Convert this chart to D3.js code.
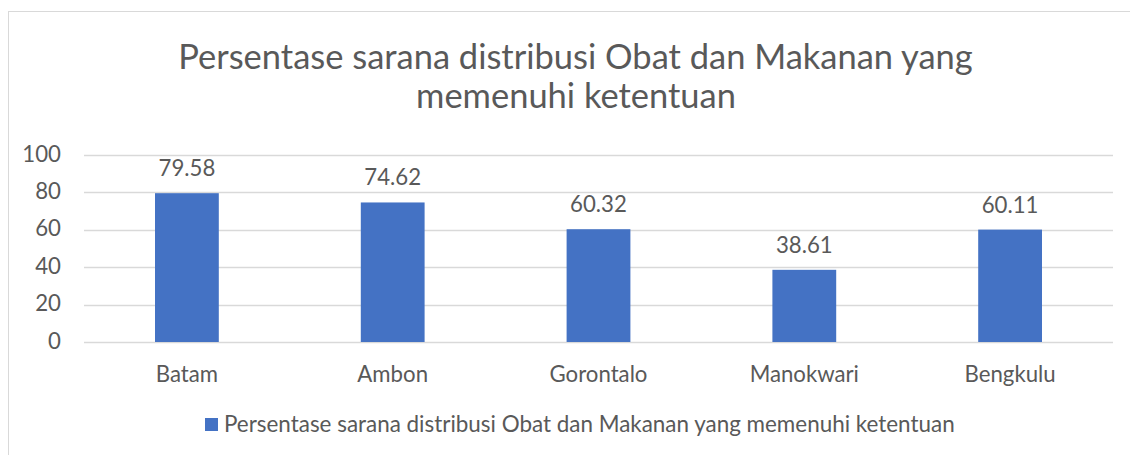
<!DOCTYPE html>
<html><head><meta charset="utf-8">
<script src="https://cdn.jsdelivr.net/npm/d3@7"></script>
<style>body{margin:0;background:#fff}text{font-family:Lato,"Open Sans",sans-serif;fill:#595959}</style>
</head><body><svg id="c" width="1130" height="455"></svg>
<script>
const categories = ["Batam","Ambon","Gorontalo","Manokwari","Bengkulu"];
const values = [79.58,74.62,60.32,38.61,60.11];
const yTicks = [0,20,40,60,80,100];
const titleLines = ["Persentase sarana distribusi Obat dan Makanan yang","memenuhi ketentuan"];
const seriesName = "Persentase sarana distribusi Obat dan Makanan yang memenuhi ketentuan";

const svg = d3.select("#c");
svg.append("rect").attr("x",8.5).attr("y",11.5).attr("width",1140).attr("height",460)
  .attr("fill","#fff").attr("stroke","#D9D9D9");

function fit(sel, target){
  const w = sel.node().getComputedTextLength();
  const fs = parseFloat(sel.attr("font-size"));
  sel.attr("font-size", fs*target/w);
}

const t1 = svg.append("text").attr("x",575.5).attr("y",69).attr("text-anchor","middle").attr("font-size",30).text(titleLines[0]);
fit(t1,795);
svg.append("text").attr("x",576).attr("y",108).attr("text-anchor","middle").attr("font-size",t1.attr("font-size")).text(titleLines[1]);

const x = d3.scaleBand().domain(categories).range([84,1113]).paddingInner(0.69).paddingOuter(0.345);
const y = d3.scaleLinear().domain([0,100]).range([342,155]);

const g = svg.append("g");
g.selectAll("line.grid").data(yTicks).join("line")
  .attr("x1",84).attr("x2",1113).attr("y1",d=>Math.round(y(d))+0.5).attr("y2",d=>Math.round(y(d))+0.5)
  .attr("stroke","#D9D9D9").attr("stroke-width",1.3);

const yl = g.selectAll("text.yt").data(yTicks).join("text").attr("class","yt")
  .attr("x",61).attr("y",d=>y(d)+6.5).attr("text-anchor","end").attr("font-size",18).text(d=>d);

g.selectAll("rect.bar").data(values).join("rect").attr("class","bar")
  .attr("x",(d,i)=>x(categories[i])).attr("width",x.bandwidth())
  .attr("y",d=>y(d)).attr("height",d=>y(0)-y(d)).attr("fill","#4472C4");

g.selectAll("text.dl").data(values).join("text").attr("class","dl")
  .attr("x",(d,i)=>x(categories[i])+x.bandwidth()/2).attr("y",d=>y(d)-17)
  .attr("text-anchor","middle").attr("font-size",18).text(d=>d.toFixed(2));

const cl = g.selectAll("text.cat").data(categories).join("text").attr("class","cat")
  .attr("x",d=>x(d)+x.bandwidth()/2).attr("y",382)
  .attr("text-anchor","middle").attr("font-size",18).text(d=>d);
const gor = cl.filter(d=>d==="Gorontalo");
const fsC = 18*98/gor.node().getComputedTextLength();
cl.attr("font-size",fsC);
g.selectAll("text.dl").attr("font-size",fsC);
yl.attr("font-size",fsC);

svg.append("rect").attr("x",205).attr("y",418).attr("width",13).attr("height",13).attr("fill","#4472C4");
const lt = svg.append("text").attr("x",224).attr("y",432).attr("font-size",18).text(seriesName);
fit(lt,731);
</script></body></html>
